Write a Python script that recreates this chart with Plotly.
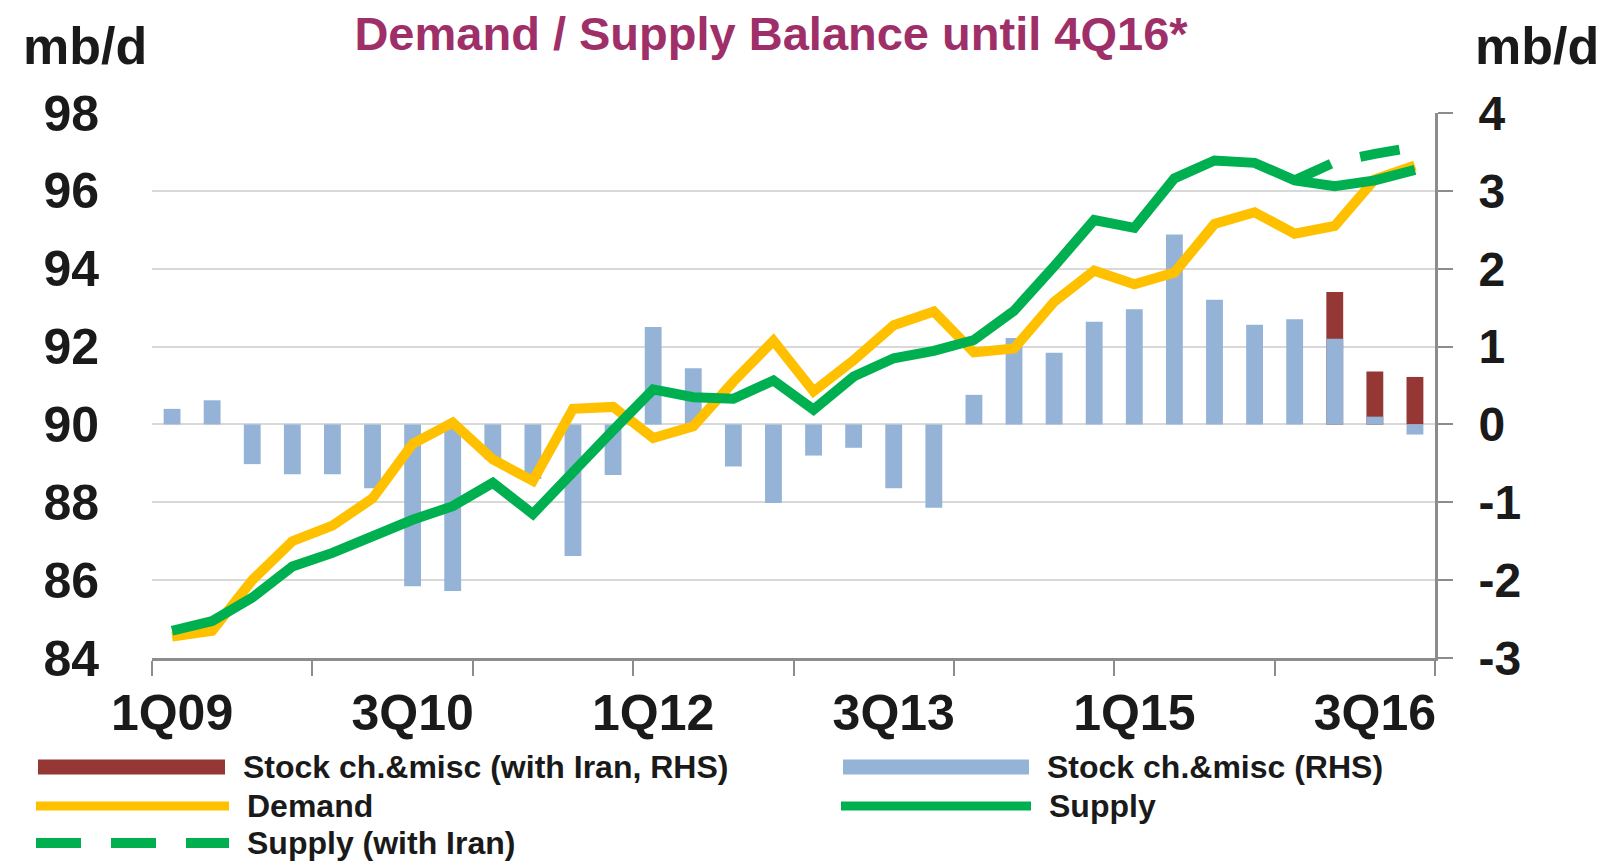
import plotly.graph_objects as go

# ---------------- data ----------------
quarters = ["1Q09", "2Q09", "3Q09", "4Q09", "1Q10", "2Q10", "3Q10", "4Q10",
            "1Q11", "2Q11", "3Q11", "4Q11", "1Q12", "2Q12", "3Q12", "4Q12",
            "1Q13", "2Q13", "3Q13", "4Q13", "1Q14", "2Q14", "3Q14", "4Q14",
            "1Q15", "2Q15", "3Q15", "4Q15", "1Q16", "2Q16", "3Q16", "4Q16"]

demand = [84.55, 84.70, 86.00, 87.00, 87.40, 88.10, 89.50, 90.05,
          89.10, 88.55, 90.40, 90.45, 89.65, 89.95, 91.10, 92.15,
          90.85, 91.65, 92.55, 92.90, 91.85, 91.95, 93.15, 93.95,
          93.60, 93.90, 95.15, 95.45, 94.90, 95.10, 96.30, 96.65]

supply = [84.70, 84.95, 85.55, 86.35, 86.70, 87.15, 87.55, 87.90,
          88.50, 87.70, 88.80, 89.85, 90.90, 90.70, 90.66, 91.13,
          90.38, 91.23, 91.70, 91.89, 92.17, 92.92, 94.06, 95.25,
          95.05, 96.32, 96.78, 96.72, 96.27, 96.12, 96.27, 96.54]

supply_iran = [None, None, None, None, None, None, None, None,
               None, None, None, None, None, None, None, None,
               None, None, None, None, None, None, None, None,
               None, None, None, None, 96.27, 96.74, 96.95, 97.13]

stock = [0.20, 0.31, -0.51, -0.64, -0.64, -0.82, -2.08, -2.14,
         -0.45, -0.70, -1.69, -0.65, 1.25, 0.72, -0.54, -1.01,
         -0.40, -0.30, -0.82, -1.07, 0.38, 1.11, 0.92, 1.32,
         1.48, 2.44, 1.60, 1.28, 1.35, 1.10, 0.10, -0.13]

stock_iran = [None, None, None, None, None, None, None, None,
              None, None, None, None, None, None, None, None,
              None, None, None, None, None, None, None, None,
              None, None, None, None, None, 1.70, 0.68, 0.61]

tick_labels = ["1Q09", "3Q10", "1Q12", "3Q13", "1Q15", "3Q16"]
left_ticks = [84, 86, 88, 90, 92, 94, 96, 98]
right_ticks = [-3, -2, -1, 0, 1, 2, 3, 4]
right_tick_text = ["-3", "-2", "-1", "0", "1", "2", "3", "4"]

names = {
    "stock_iran": "Stock ch.&misc (with Iran, RHS)",
    "stock": "Stock ch.&misc (RHS)",
    "demand": "Demand",
    "supply": "Supply",
    "supply_iran": "Supply (with Iran)",
}

# ---------------- styling ----------------
W, H = 1613, 865
OFF = 8  # page body margin offset
# plot area in page pixels: x 152..1435, y 113..658
ML, MT = 152 - OFF, 113 - OFF
PW, PH = 1283, 545
MR = W - ML - PW
MB = H - MT - PH
FONT = "Arial, Liberation Sans, sans-serif"
GRID = "#D9D9D9"
AXIS = "#8C8C8C"
RED = "#953735"
BLUE = "#95B3D7"
GOLD = "#FFC000"
GREEN = "#00B050"
TXT = "#1A1A1A"


def px_x(p):
    # page pixel -> paper coordinate
    return (p - OFF - ML) / PW


def px_y(p):
    return (MT + PH - (p - OFF)) / PH


x = list(range(len(quarters)))

fig = go.Figure()
fig.add_trace(go.Bar(x=x, y=stock_iran, name=names["stock_iran"], yaxis="y",
                     marker=dict(color=RED, line=dict(width=0)), width=0.42))
fig.add_trace(go.Bar(x=x, y=stock, name=names["stock"], yaxis="y",
                     marker=dict(color=BLUE, line=dict(width=0)), width=0.42))
fig.add_trace(go.Scatter(x=x, y=demand, name=names["demand"], yaxis="y2", mode="lines",
                         line=dict(color=GOLD, width=10)))
fig.add_trace(go.Scatter(x=x, y=supply, name=names["supply"], yaxis="y2", mode="lines",
                         line=dict(color=GREEN, width=10)))
fig.add_trace(go.Scatter(x=x, y=supply_iran, name=names["supply_iran"], yaxis="y2", mode="lines",
                         line=dict(color=GREEN, width=10, dash="40px,30px")))

boundaries = [i - 0.5 for i in range(0, len(quarters) + 1, 4)]

fig.update_layout(
    width=W, height=H,
    margin=dict(l=ML, r=MR, t=MT, b=MB),
    paper_bgcolor="white", plot_bgcolor="white",
    barmode="overlay", showlegend=False,
    font=dict(family=FONT, color=TXT),
    title=dict(text="Demand / Supply Balance until 4Q16*",
               x=(771 - OFF) / W, xanchor="center", y=1 - (34 - OFF) / H, yanchor="middle",
               font=dict(family=FONT, size=47, color="#9E2F68", weight="bold")),
    xaxis=dict(range=[-0.5, len(quarters) - 0.5],
               tickmode="array", tickvals=[quarters.index(t) for t in tick_labels],
               ticktext=tick_labels,
               ticks="outside", ticklen=9, tickcolor="rgba(0,0,0,0)",
               minor=dict(tickmode="array", tickvals=boundaries, ticks="outside",
                          ticklen=15, tickwidth=2, tickcolor=AXIS, showgrid=False),
               showline=True, linecolor=AXIS, linewidth=3,
               showgrid=False, zeroline=False,
               tickfont=dict(family=FONT, size=50, color=TXT, weight="bold")),
    yaxis=dict(side="right", range=[-3, 4], tickmode="array", tickvals=right_ticks,
               ticktext=right_tick_text,
               showgrid=True, gridcolor=GRID, gridwidth=2,
               showline=True, linecolor=AXIS, linewidth=3,
               ticks="outside", ticklen=15, tickwidth=2, tickcolor=AXIS,
               ticklabelstandoff=16, zeroline=False,
               tickfont=dict(family=FONT, size=48, color=TXT, weight="bold")),
    yaxis2=dict(overlaying="y", side="left", range=[84, 98], tickmode="array",
                tickvals=left_ticks, showgrid=False, showline=False, zeroline=False,
                ticks="", ticklabelstandoff=52,
                tickfont=dict(family=FONT, size=50, color=TXT, weight="bold")),
)

# axis unit labels
for cx in (85, 1537):
    fig.add_annotation(text="mb/d", xref="paper", yref="paper",
                       x=px_x(cx), y=px_y(46), xanchor="center", yanchor="middle",
                       showarrow=False,
                       font=dict(family=FONT, size=52, color=TXT, weight="bold"))

# custom legend (long symbols like the original)
legend_items = [
    # (name key, color, width, dash, x0, x1, row y) in page pixels
    ("stock_iran", RED, 15, None, 38, 225, 767),
    ("stock", BLUE, 15, None, 843, 1029, 767),
    ("demand", GOLD, 9, None, 36, 229, 806),
    ("supply", GREEN, 9, None, 841, 1031, 806),
    ("supply_iran", GREEN, 10, "45px,30px", 36, 229, 843),
]
for key, col, lw, dash, x0, x1, yy in legend_items:
    line = dict(color=col, width=lw)
    if dash:
        line["dash"] = dash
    fig.add_shape(type="line", xref="paper", yref="paper",
                  x0=px_x(x0), x1=px_x(x1), y0=px_y(yy), y1=px_y(yy), line=line)
    fig.add_annotation(text=names[key], xref="paper", yref="paper",
                       x=px_x(x1 + 16), y=px_y(yy), xanchor="left", yanchor="middle",
                       showarrow=False,
                       font=dict(family=FONT, size=32, color=TXT, weight="bold"))

fig.write_html("out.html")
